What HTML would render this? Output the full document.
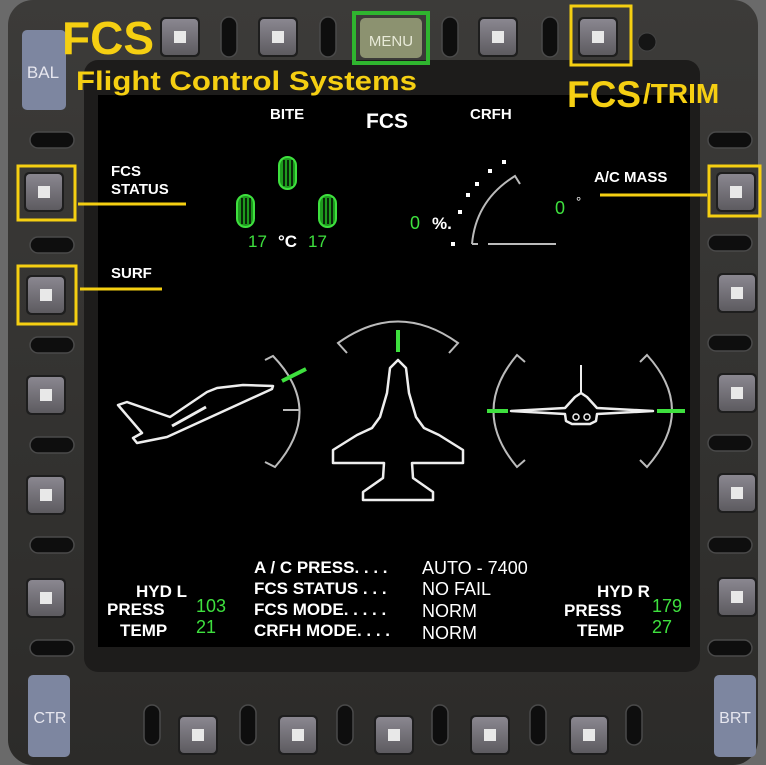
<!DOCTYPE html>
<html><head><meta charset="utf-8"><style>
html,body{margin:0;padding:0;background:#2e2e2e}
svg{display:block}
text{font-family:"Liberation Sans",sans-serif}
</style></head><body>
<svg width="766" height="765" viewBox="0 0 766 765" xmlns="http://www.w3.org/2000/svg">
<defs>
<linearGradient id="bz" x1="0" y1="0" x2="0" y2="1"><stop offset="0" stop-color="#3c3b39"/><stop offset="1" stop-color="#2c2b29"/></linearGradient>
<linearGradient id="btn" x1="0" y1="0" x2="0" y2="1"><stop offset="0" stop-color="#8a8790"/><stop offset="1" stop-color="#5d5b60"/></linearGradient>
<g id="b"><rect x="-20" y="-20" width="40" height="40" rx="5" fill="#1e1e1e"/><rect x="-18" y="-18" width="36" height="36" rx="4" fill="url(#btn)"/><rect x="-6" y="-6" width="12" height="12" fill="#e8e8e8"/></g>
<g id="rv"><rect x="-8" y="-20" width="16" height="40" rx="8" fill="#0e0e0e" stroke="#4a4a4a" stroke-width="1.5"/></g>
<g id="rh"><rect x="-22" y="-8" width="44" height="16" rx="8" fill="#0e0e0e" stroke="#4a4a4a" stroke-width="1.5"/></g>
</defs>
<rect width="766" height="765" fill="#6a6a6a"/>
<rect x="8" y="0" width="750" height="765" rx="25" fill="url(#bz)"/>
<rect x="84" y="60" width="616" height="612" rx="14" fill="#1d1c1b"/>
<rect x="98" y="95" width="592" height="552" fill="#000"/>
<!-- top row -->
<use href="#b" x="180" y="37"/><use href="#b" x="278" y="37"/><use href="#b" x="498" y="37"/><use href="#b" x="598" y="37"/>
<rect x="360" y="18" width="62" height="40" rx="5" fill="#8c9270"/>
<text x="391" y="46" font-size="15" fill="#e8ead8" text-anchor="middle">MENU</text>
<use href="#rv" x="229" y="37"/><use href="#rv" x="328" y="37"/><use href="#rv" x="450" y="37"/><use href="#rv" x="550" y="37"/>
<circle cx="647" cy="42" r="9" fill="#151515" stroke="#444"/>
<!-- left column -->
<rect x="22" y="30" width="44" height="80" rx="5" fill="#7d86a0"/><text x="43" y="78" font-size="17" fill="#e6e6ee" text-anchor="middle">BAL</text>
<use href="#b" x="44" y="192"/><use href="#b" x="46" y="295"/><use href="#b" x="46" y="395"/><use href="#b" x="46" y="495"/><use href="#b" x="46" y="598"/>
<use href="#rh" x="52" y="140"/><use href="#rh" x="52" y="245"/><use href="#rh" x="52" y="345"/><use href="#rh" x="52" y="445"/><use href="#rh" x="52" y="545"/><use href="#rh" x="52" y="648"/>
<rect x="28" y="675" width="42" height="82" rx="5" fill="#7d86a0"/><text x="50" y="723" font-size="16" fill="#e6e6ee" text-anchor="middle">CTR</text>
<!-- right column -->
<use href="#b" x="736" y="192"/><use href="#b" x="737" y="293"/><use href="#b" x="737" y="393"/><use href="#b" x="737" y="493"/><use href="#b" x="737" y="597"/>
<use href="#rh" x="730" y="140"/><use href="#rh" x="730" y="243"/><use href="#rh" x="730" y="343"/><use href="#rh" x="730" y="443"/><use href="#rh" x="730" y="545"/><use href="#rh" x="730" y="648"/>
<rect x="714" y="675" width="42" height="82" rx="5" fill="#7d86a0"/><text x="735" y="723" font-size="16" fill="#e6e6ee" text-anchor="middle">BRT</text>
<!-- bottom row -->
<use href="#b" x="198" y="735"/><use href="#b" x="298" y="735"/><use href="#b" x="394" y="735"/><use href="#b" x="490" y="735"/><use href="#b" x="589" y="735"/>
<use href="#rv" x="152" y="725"/><use href="#rv" x="248" y="725"/><use href="#rv" x="345" y="725"/><use href="#rv" x="440" y="725"/><use href="#rv" x="538" y="725"/><use href="#rv" x="634" y="725"/>
<!-- annotations -->
<text x="62" y="54" font-size="46" font-weight="bold" fill="#f5cf12">FCS</text>
<text x="76" y="90" font-size="27" font-weight="bold" fill="#f5cf12" textLength="341" lengthAdjust="spacingAndGlyphs">Flight Control Systems</text>
<rect x="354" y="13" width="74" height="50" fill="none" stroke="#2fb52f" stroke-width="4"/>
<rect x="571" y="6" width="60" height="59" fill="none" stroke="#f5cf12" stroke-width="3"/>
<text x="567" y="107" font-size="37" font-weight="bold" fill="#f5cf12">FCS</text>
<text x="643" y="103" font-size="28" font-weight="bold" fill="#f5cf12">/TRIM</text>
<rect x="18" y="166" width="57" height="54" fill="none" stroke="#f5cf12" stroke-width="3"/>
<line x1="78" y1="204" x2="186" y2="204" stroke="#f5cf12" stroke-width="3"/>
<rect x="18" y="266" width="58" height="58" fill="none" stroke="#f5cf12" stroke-width="3"/>
<line x1="80" y1="289" x2="162" y2="289" stroke="#f5cf12" stroke-width="3"/>
<rect x="709" y="166" width="51" height="50" fill="none" stroke="#f5cf12" stroke-width="3"/>
<line x1="600" y1="195" x2="707" y2="195" stroke="#f5cf12" stroke-width="3"/>
<!-- screen labels -->
<g fill="#fff" font-weight="bold">
<text x="270" y="119" font-size="15">BITE</text>
<text x="366" y="128" font-size="21">FCS</text>
<text x="470" y="119" font-size="15">CRFH</text>
<text x="111" y="176" font-size="15">FCS</text><text x="111" y="194" font-size="15">STATUS</text>
<text x="111" y="278" font-size="15">SURF</text>
<text x="594" y="182" font-size="15">A/C MASS</text>
</g>
<!-- pills -->
<g fill="#1e9a1e" stroke="#3ee03e" stroke-width="2">
<rect x="279" y="157" width="17" height="32" rx="8.5"/><rect x="237" y="195" width="17" height="32" rx="8.5"/><rect x="319" y="195" width="17" height="32" rx="8.5"/>
</g>
<g stroke="#000" stroke-width="1.5">
<line x1="284" y1="160" x2="284" y2="186"/><line x1="288" y1="160" x2="288" y2="186"/><line x1="292" y1="160" x2="292" y2="186"/>
<line x1="242" y1="198" x2="242" y2="224"/><line x1="246" y1="198" x2="246" y2="224"/><line x1="250" y1="198" x2="250" y2="224"/>
<line x1="324" y1="198" x2="324" y2="224"/><line x1="328" y1="198" x2="328" y2="224"/><line x1="332" y1="198" x2="332" y2="224"/>
</g>
<text x="248" y="247" font-size="17" fill="#3ee03e" font-family="Liberation Mono">17</text>
<text x="278" y="247" font-size="17" fill="#fff" font-weight="bold">°C</text>
<text x="308" y="247" font-size="17" fill="#3ee03e" font-family="Liberation Mono">17</text>
<!-- CRFH gauge -->
<text x="410" y="229" font-size="18" fill="#3ee03e" font-family="Liberation Mono">0</text>
<text x="432" y="229" font-size="17" fill="#fff" font-weight="bold">%.</text>
<text x="555" y="214" font-size="18" fill="#3ee03e" font-family="Liberation Mono">0</text>
<text x="576" y="206" font-size="13" fill="#fff">°</text>
<path d="M472 244 Q476 200 515 176 L520 184" fill="none" stroke="#bbb" stroke-width="2"/>
<line x1="472" y1="244" x2="478" y2="244" stroke="#bbb" stroke-width="2"/>
<line x1="488" y1="244" x2="556" y2="244" stroke="#bbb" stroke-width="2"/>
<g fill="#fff"><rect x="451" y="242" width="4" height="4"/><rect x="458" y="210" width="4" height="4"/><rect x="466" y="193" width="4" height="4"/><rect x="475" y="182" width="4" height="4"/><rect x="488" y="169" width="4" height="4"/><rect x="502" y="160" width="4" height="4"/></g>
<!-- side view -->
<path d="M265 360 L273 356 Q325 410 275 467 L265 462" fill="none" stroke="#bbb" stroke-width="2"/>
<line x1="283" y1="410" x2="300" y2="410" stroke="#bbb" stroke-width="2"/>
<line x1="282" y1="381" x2="306" y2="369" stroke="#3ee03e" stroke-width="4"/>
<path d="M273 386 L243 385 L217 388 L207 392 L170 417 L127 402 L118 405 L142 433 L133 438 L137 443 L167 437 L272 389 Z" fill="none" stroke="#eee" stroke-width="2.5" stroke-linejoin="round"/>
<line x1="172" y1="426" x2="206" y2="407" stroke="#eee" stroke-width="3"/>
<!-- top view -->
<path d="M347 353 L338 343 Q398 300 458 343 L449 353" fill="none" stroke="#bbb" stroke-width="2"/>
<line x1="398" y1="330" x2="398" y2="352" stroke="#3ee03e" stroke-width="4"/>
<path d="M398 360 L390 368 L387 393 L380 417 L372 428 L357 435 L333 450 L333 463 L384 463 L383 478 L363 492 L363 500 L433 500 L433 492 L413 478 L412 463 L463 463 L463 450 L439 435 L424 428 L416 417 L409 393 L406 368 Z" fill="none" stroke="#eee" stroke-width="2.5" stroke-linejoin="round"/>
<!-- front view -->
<path d="M525 362 L517 355 Q470 411 517 467 L525 460" fill="none" stroke="#bbb" stroke-width="2"/>
<path d="M640 362 L647 355 Q697 410 647 467 L640 460" fill="none" stroke="#bbb" stroke-width="2"/>
<line x1="487" y1="411" x2="508" y2="411" stroke="#3ee03e" stroke-width="4"/>
<line x1="657" y1="411" x2="685" y2="411" stroke="#3ee03e" stroke-width="4"/>
<path d="M511 411 L565 408 L575 397 L581 393 L587 397 L597 408 L653 411 L597 414 L596 421 L590 424 L572 424 L566 421 L565 414 Z" fill="none" stroke="#eee" stroke-width="2.5" stroke-linejoin="round"/>
<line x1="581" y1="365" x2="581" y2="393" stroke="#eee" stroke-width="2"/>
<circle cx="576" cy="417" r="3" fill="none" stroke="#eee" stroke-width="1.5"/><circle cx="587" cy="417" r="3" fill="none" stroke="#eee" stroke-width="1.5"/>
<!-- bottom text -->
<g fill="#fff" font-weight="bold" font-size="17">
<text x="136" y="597">HYD L</text><text x="107" y="615">PRESS</text><text x="120" y="636">TEMP</text>
<text x="597" y="597">HYD R</text><text x="564" y="616">PRESS</text><text x="577" y="636">TEMP</text>
<text x="254" y="573">A / C PRESS. . . .</text>
<text x="254" y="594">FCS STATUS . . .</text>
<text x="254" y="615">FCS MODE. . . . .</text>
<text x="254" y="636">CRFH MODE. . . .</text>
</g>
<g fill="#fff" font-size="18">
<text x="422" y="574">AUTO - 7400</text><text x="422" y="595">NO FAIL</text><text x="422" y="617">NORM</text><text x="422" y="639">NORM</text>
</g>
<g fill="#3ee03e" font-size="18" font-family="Liberation Serif">
<text x="196" y="612">103</text><text x="196" y="633">21</text><text x="652" y="612">179</text><text x="652" y="633">27</text>
</g>
</svg>
</body></html>
